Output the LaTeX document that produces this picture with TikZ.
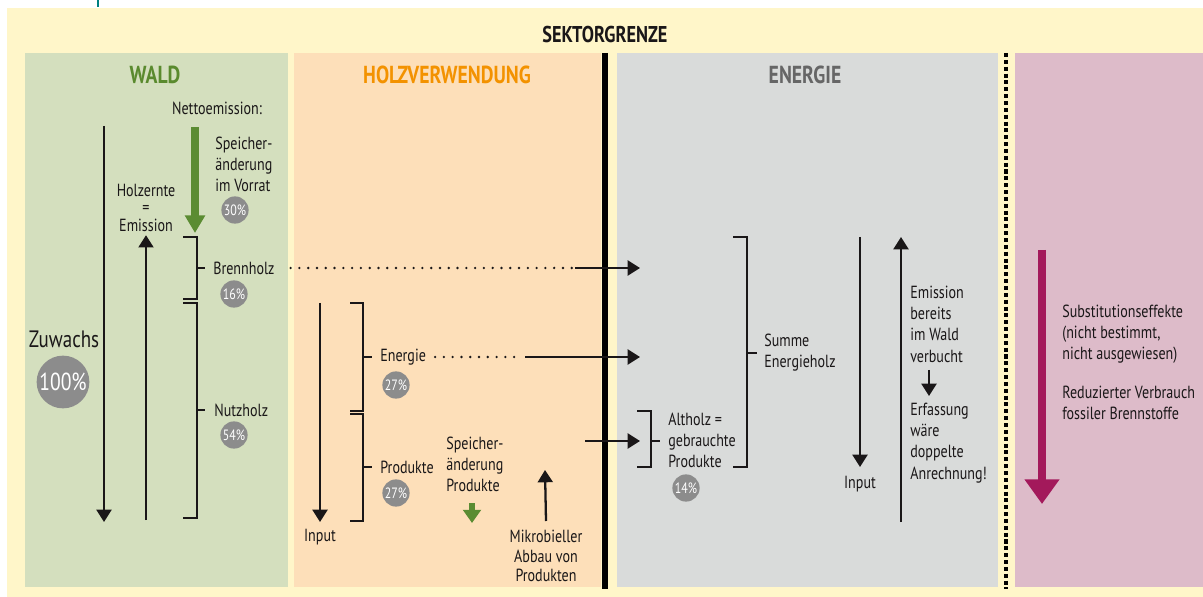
\documentclass[tikz,border=0pt]{standalone}
\usepackage{fontspec}
\setmainfont{PT Sans}[FakeStretch=0.8]
\usetikzlibrary{arrows.meta}
\definecolor{bgy}{HTML}{FFF6C9}
\definecolor{waldc}{HTML}{D4DFBE}
\definecolor{holzc}{HTML}{FDDFB9}
\definecolor{enc}{HTML}{D9DBDA}
\definecolor{pinkc}{HTML}{DDBBC9}
\definecolor{greenh}{HTML}{5A8A2E}
\definecolor{greena}{HTML}{5B8C32}
\definecolor{orangeh}{HTML}{F39200}
\definecolor{grayh}{HTML}{666666}
\definecolor{pctc}{HTML}{8C8C8C}
\definecolor{magc}{HTML}{A3195B}
\definecolor{txt}{HTML}{1A1718}
\tikzset{
  lbl/.style={inner sep=0pt, text=txt, font=\fontsize{10}{11.9}\selectfont, align=left},
  lblc/.style={lbl, align=center},
  head/.style={inner sep=0pt, font=\bfseries\fontsize{14}{16}\selectfont},
  pct/.style={circle, fill=pctc, text=white, inner sep=0pt, minimum size=15.5pt, font=\fontsize{8.5}{9}\selectfont},
  br/.style={line width=1.3pt, draw=txt},
  arr/.style={line width=1.3pt, draw=txt, -{Triangle[length=7pt,width=8.5pt]}},
  dots/.style={line width=1.5pt, draw=txt, line cap=round, dash pattern=on 0pt off 5pt},
}
\begin{document}
\begin{tikzpicture}[x=0.02cm,y=-0.02cm]
\useasboundingbox (0,0) rectangle (1203,597);
\fill[white] (0,0) rectangle (1203,597);
\fill[bgy] (7,8) rectangle (1203,597);
\draw[teal, line width=0.6pt] (98,0) -- (98,7);
% panels
\fill[waldc] (25,53) rectangle (288,587);
\fill[holzc] (294,53) rectangle (601,587);
\fill[enc] (617,53) rectangle (998,587);
\fill[pinkc] (1015,53) rectangle (1203,587);
\draw[line width=2.9pt] (605,53) -- (605,589);
\draw[line width=2.8pt, dash pattern=on 2.3pt off 1.6pt] (1006,53) -- (1006,589);
% headings
\node[head, text=txt, font=\bfseries\fontsize{13}{15}\selectfont] (sektor) at (605,35) {SEKTORGRENZE};
\node[head, text=greenh] (wald) at (155,75) {WALD};
\node[head, text=orangeh] (holz) at (447,75) {HOLZVERWENDUNG};
\node[head, text=grayh] (energie) at (805,75) {ENERGIE};
% WALD
\node[lblc] (netto) at (217,108) {Nettoemission:};
\coordinate (ga1) at (195,127);
\coordinate (ga2) at (195,233);
\draw[greena, line width=4pt, -{Triangle[length=10pt,width=11pt]}] (ga1) -- (ga2);
\node[lbl, anchor=west] (speicherv) at (215,164) {Speicher-\\änderung\\im Vorrat};
\node[pct] (p30) at (235,210) {30\%};
\node[lblc] (holzernte) at (146,190) {Holzernte};
\node[lblc] (gleich) at (146,209) {=};
\node[lblc] (emiss) at (146,225) {Emission};
\node[lblc, font=\fontsize{13.5}{16}\selectfont] (zuwachs) at (64,339) {Zuwachs};
\node[pct, minimum size=30pt, font=\fontsize{14}{16}\selectfont] (p100) at (63,382) {100\%};
\coordinate (zw1) at (104,126);
\coordinate (zw2) at (104,522);
\draw[arr] (zw1) -- (zw2);
\coordinate (he1) at (146,520);
\draw[arr] (he1) -- ([yshift=-2pt]emiss.south);
\draw[br] (183,237) -- (197,237) -- (197,299) -- (183,299);
\draw[br] (197,268) -- (205,268);
\draw[br] (183,303) -- (197,303) -- (197,518) -- (183,518);
\draw[br] (197,410) -- (205,410);
\node[lbl, anchor=west] (brennholz) at (213,268) {Brennholz};
\node[pct] (p16) at (234,294) {16\%};
\node[lbl, anchor=west] (nutzholz) at (214,410) {Nutzholz};
\node[pct] (p54) at (234,435) {54\%};
% HOLZVERWENDUNG
\node[lblc] (input1) at (320,537) {Input};
\coordinate (in1) at (320,303);
\draw[arr] (in1) -- (320,522);
\draw[br] (350,303) -- (363,303) -- (363,411) -- (350,411);
\draw[br] (363,357) -- (372,357);
\draw[br] (350,414) -- (363,414) -- (363,521) -- (350,521);
\draw[br] (363,467) -- (372,467);
\node[lbl, anchor=west] (energietx) at (380,357) {Energie};
\node[pct] (p27a) at (396,385) {27\%};
\node[lbl, anchor=west] (produkte) at (380,467) {Produkte};
\node[pct] (p27b) at (396,493) {27\%};
\node[lbl, anchor=west] (speicherp) at (446,464) {Speicher-\\änderung\\Produkte};
\coordinate (gs1) at (472,503);
\coordinate (gs2) at (472,523);
\draw[greena, line width=3.6pt, -{Triangle[length=7.5pt,width=10pt]}] (gs1) -- (gs2);
\node[lblc, font=\fontsize{10}{11.3}\selectfont] (mikro) at (546,556) {Mikrobieller\\Abbau von\\Produkten};
\draw[arr] (mikro.north |- 0,521) -- (545,470);
% connectors to ENERGIE
\coordinate (t1) at (640,268);
\coordinate (t2) at (640,357);
\coordinate (t3) at (640,441);
\coordinate (d1) at (575,268);
\coordinate (d2) at (525,357);
\coordinate (d3) at (585,441);
\draw[dots] ([xshift=9pt]brennholz.east) -- (d1);
\draw[arr] (d1) -- (t1);
\draw[dots] ([xshift=5pt]energietx.east) -- ([xshift=-3pt]d2);
\draw[arr] (d2) -- (t2);
\draw[arr] (d3) -- (t3);
% ENERGIE
\draw[br] (637,411) -- (651,411) -- (651,467) -- (637,467);
\draw[br] (651,441) -- (660,441);
\node[lbl, anchor=west] (altholz) at (668,440) {Altholz =\\gebrauchte\\Produkte};
\node[pct] (p14) at (686,488) {14\%};
\draw[br] (733,237) -- (747,237) -- (747,467) -- (733,467);
\draw[br] (747,353) -- (757,353);
\node[lbl, anchor=west] (summe) at (764,353) {Summe\\Energieholz};
\node[lblc] (input2) at (860,484) {Input};
\coordinate (in2) at (860,237);
\draw[arr] (in2) -- (860,467);
\coordinate (em1) at (901,522);
\coordinate (em2) at (901,237);
\draw[arr] (em1) -- (em2);
\node[lbl, anchor=west, font=\fontsize{10}{12.1}\selectfont] (emission) at (910,324) {Emission\\bereits\\im Wald\\verbucht};
\node[lbl, anchor=west, font=\fontsize{10}{12.1}\selectfont] (erfassung) at (910,443) {Erfassung\\wäre\\doppelte\\Anrechnung!};
\draw[arr] (929,370) -- (929,396);
% PINK
\coordinate (m1) at (1042,250);
\coordinate (m2) at (1042,504);
\draw[magc, line width=4.6pt, -{Triangle[length=14pt,width=19pt]}] (m1) -- (m2);
\node[lbl, anchor=west] (subst) at (1062,334) {Substitutionseffekte\\(nicht bestimmt,\\nicht ausgewiesen)};
\node[lbl, anchor=west] (reduz) at (1062,403) {Reduzierter Verbrauch\\fossiler Brennstoffe};
\end{tikzpicture}
\end{document}
